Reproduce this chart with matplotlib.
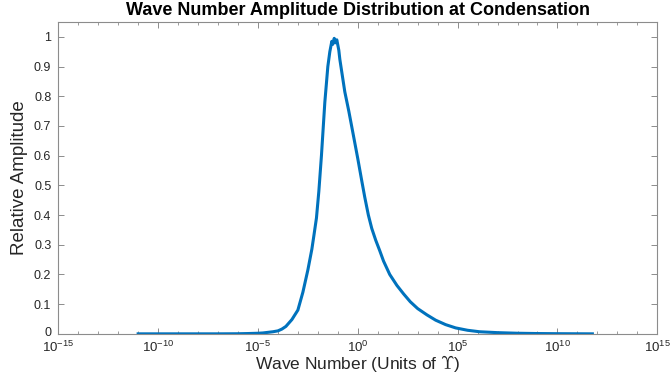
import numpy as np
import matplotlib
matplotlib.use("Agg")
from matplotlib import pyplot as plt
from matplotlib import ticker
from matplotlib.transforms import ScaledTranslation

# amplitude profile, wave number given as log10(k)
log_k = [-11.0, -9.0, -7.0, -6.0, -5.5, -5.0, -4.75, -4.5, -4.25, -4.0, -3.8, -3.6, -3.3, -3.0,
         -2.75, -2.5, -2.3, -2.2, -2.07, -1.95, -1.82, -1.65, -1.5, -1.4, -1.3, -1.25, -1.18, -1.12,
         -1.05, -0.95, -0.9, -0.65, -0.45, -0.23, 0.0, 0.2, 0.35, 0.53, 0.7, 0.9, 1.1, 1.29,
         1.6, 1.96, 2.3, 2.63, 3.0, 3.46, 3.9, 4.4, 4.9, 5.5, 6.1, 7.0, 8.0, 9.0, 10.0, 11.0, 11.75]
amp = [0.0, 0.0, 0.0, 0.0003, 0.001, 0.002, 0.003, 0.005, 0.007, 0.010, 0.016, 0.025, 0.048, 0.080,
       0.14, 0.215, 0.285, 0.33, 0.39, 0.48, 0.60, 0.78, 0.90, 0.95, 0.985, 0.975, 0.995, 0.98,
       0.99, 0.955, 0.925, 0.815, 0.75, 0.672, 0.59, 0.515, 0.46, 0.40, 0.355, 0.315, 0.28, 0.245,
       0.2, 0.163, 0.134, 0.108, 0.085, 0.064, 0.046, 0.031, 0.020, 0.012, 0.007, 0.004, 0.002,
       0.001, 0.0005, 0.0002, 0.0]

major_exp = list(range(-15, 16, 5))
y_ticks = [0, 0.1, 0.2, 0.3, 0.4, 0.5, 0.6, 0.7, 0.8, 0.9, 1]

plt.rcParams['font.family'] = ['Liberation Sans', 'DejaVu Sans']
plt.rcParams['mathtext.fontset'] = 'custom'
plt.rcParams['mathtext.rm'] = 'Liberation Sans'
plt.rcParams['mathtext.it'] = 'Liberation Sans'

fig = plt.figure(figsize=(6.7, 3.73), dpi=100)
ax = fig.add_axes([0.087, 0.105, 0.894, 0.836])

k = 10.0 ** np.array(log_k)
ax.plot(k, amp, color='#0072BD', linewidth=2.2, solid_joinstyle='round')

ax.set_xscale('log')
ax.set_xlim(1e-15, 1e15)
ax.set_ylim(0, 1.05)
ax.set_xticks([10.0 ** e for e in major_exp])
ax.xaxis.set_major_formatter(ticker.FuncFormatter(lambda v, p: r'$10^{%d}$' % round(np.log10(v))))
ax.xaxis.set_minor_locator(ticker.FixedLocator([10.0 ** e for e in range(-15, 16)]))
ax.xaxis.set_minor_formatter(ticker.NullFormatter())
ax.set_yticks(y_ticks)
ax.set_yticklabels(['%g' % t for t in y_ticks])

for s in ax.spines.values():
    s.set_color('#8c8c8c')
    s.set_linewidth(0.8)
ax.tick_params(which='both', direction='in', top=True, right=True, color='#8c8c8c',
               labelcolor='#262626')
ax.tick_params(which='major', length=4, width=0.7)
ax.tick_params(which='minor', length=2.5, width=0.6)
ax.tick_params(axis='x', pad=4, labelsize=9.5)
ax.tick_params(axis='y', pad=5, labelsize=9)

# lift the "0" a little so it clears the 10^-15 label below it
zero_lbl = ax.get_yticklabels()[0]
zero_lbl.set_transform(zero_lbl.get_transform() + ScaledTranslation(0, 2 / 72, fig.dpi_scale_trans))

ax.set_title('Wave Number Amplitude Distribution at Condensation', fontsize=13,
             fontweight='bold', pad=5)
ax.set_xlabel(r'Wave Number (Units of $\Upsilon$)', fontsize=12.5, color='#262626',
              math_fontfamily='cm')
ax.xaxis.set_label_coords(0.5, -0.062)
ax.set_ylabel('Relative Amplitude', fontsize=13.5, color='#262626', labelpad=4)

fig.savefig('out.png', dpi=100)
